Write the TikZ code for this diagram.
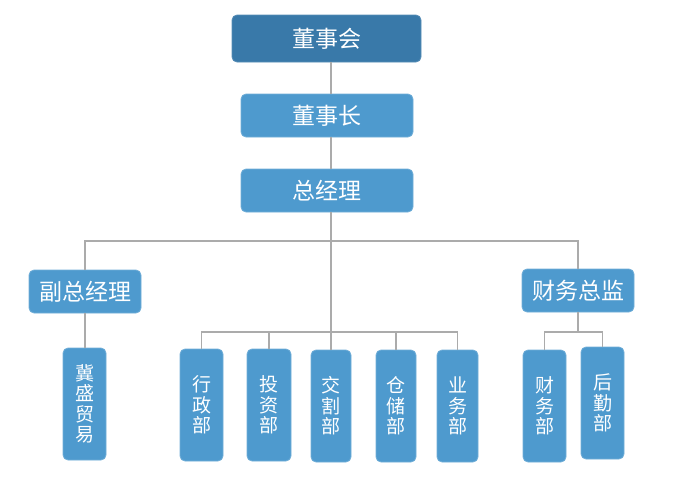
\documentclass[tikz,border=0pt]{standalone}
\usepackage{fontspec}
\newfontfamily\cjk{Noto Sans CJK SC}
\definecolor{boardblue}{HTML}{3979A9}
\definecolor{boxblue}{HTML}{4E9ACE}
\definecolor{linkgray}{HTML}{ABABAB}
\tikzset{
  unit/.style={
    fill=boxblue, draw=boxblue!80!white, line width=0.8pt,
    rounded corners=5pt, text=white, inner sep=0pt,
    font=\cjk\fontsize{23}{27}\selectfont},
  boardunit/.style={unit, fill=boardblue, draw=boardblue!85!white},
  dept/.style={unit, align=center, minimum height=112pt,
    font=\cjk\fontsize{19}{20.5}\selectfont},
  link/.style={draw=linkgray, line width=1.5pt}
}
\begin{document}
\begin{tikzpicture}[x=1pt, y=-1pt]
\useasboundingbox (0,0) rectangle (678,480);

% top of the chart
\node[boardunit, minimum width=189pt, minimum height=47pt] (board) at (326.5,38.5) {董事会};
\node[unit, minimum width=172pt, minimum height=43pt] (chair) at (327,115.5) {董事长};
\node[unit, minimum width=172pt, minimum height=43pt] (gm) at (327,190.5) {总经理};

% second level
\node[unit, minimum width=112pt, minimum height=43pt] (vice) at (85,291.5) {副总经理};
\node[unit, minimum width=112pt, minimum height=43pt] (cfo) at (578,290.5) {财务总监};

% departments
\node[dept, minimum width=43pt] (jisheng) at (84.5,404) {冀\\盛\\贸\\易};
\node[dept, minimum width=43pt] (xingzheng) at (201.5,405) {行\\政\\部};
\node[dept, minimum width=44pt] (touzi) at (269,405) {投\\资\\部};
\node[dept, minimum width=40pt] (jiaoge) at (331,406) {交\\割\\部};
\node[dept, minimum width=40pt] (cangchu) at (396,406) {仓\\储\\部};
\node[dept, minimum width=41pt] (yewu) at (457.5,406) {业\\务\\部};
\node[dept, minimum width=43pt] (caiwu) at (544.5,406) {财\\务\\部};
\node[dept, minimum width=43pt] (houqin) at (602.5,403) {后\\勤\\部};

\coordinate (trunk) at (331,241);
\coordinate (deptbar) at (331,332);

% connectors
\begin{scope}[on background layer/.try]
\path[link] (board.south -| trunk) -- (chair.north -| trunk);
\path[link] (chair.south -| trunk) -- (gm.north -| trunk);
\path[link] (gm.south -| trunk) -- (jiaoge.north);
\path[link] (vice.north) |- (trunk) -| (cfo.north);
\path[link] (vice.south) -- (jisheng.north -| vice.south);
\path[link] (xingzheng.north) |- (deptbar) -| (yewu.north);
\path[link] (touzi.north) -- (touzi.north |- deptbar);
\path[link] (cangchu.north) -- (cangchu.north |- deptbar);
\path[link] (cfo.south) -- (cfo.south |- deptbar);
\path[link] (caiwu.north) |- (cfo.south |- deptbar) -| (houqin.north);
\end{scope}
\end{tikzpicture}
\end{document}
